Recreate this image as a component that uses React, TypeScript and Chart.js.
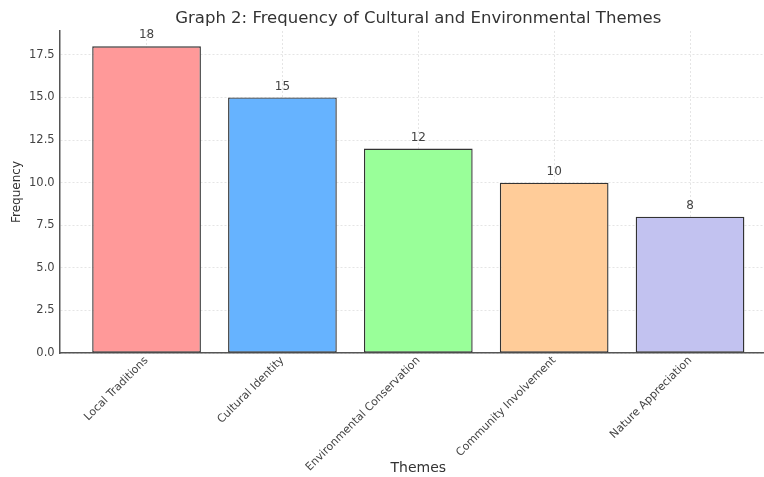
import React, { useEffect, useRef } from "react";
import { Chart, registerables } from "chart.js";

Chart.register(...registerables);

const categories = [
  "Local Traditions",
  "Cultural Identity",
  "Environmental Conservation",
  "Community Involvement",
  "Nature Appreciation",
];
const frequencies = [18, 15, 12, 10, 8];
const barColors = ["#ff9999", "#66b3ff", "#99ff99", "#ffcc99", "#c2c2f0"];
const yTicks = [0, 2.5, 5, 7.5, 10, 12.5, 15, 17.5];
const titleText = "Graph 2: Frequency of Cultural and Environmental Themes";
const xTitle = "Themes";
const yTitle = "Frequency";

const FONT = "'DejaVu Sans', sans-serif";

const valueLabels = {
  id: "valueLabels",
  afterDatasetsDraw(chart: any) {
    const ctx = chart.ctx;
    const meta = chart.getDatasetMeta(0);
    ctx.save();
    ctx.font = `12px ${FONT}`;
    ctx.fillStyle = "#444";
    ctx.textAlign = "center";
    ctx.textBaseline = "bottom";
    meta.data.forEach((el: any, i: number) => {
      ctx.fillText(String(frequencies[i]), el.x, el.y - 5);
    });
    ctx.restore();
  },
};

const plotTitle = {
  id: "plotTitle",
  afterDraw(chart: any) {
    const ctx = chart.ctx;
    const a = chart.chartArea;
    ctx.save();
    ctx.font = `16.5px ${FONT}`;
    ctx.fillStyle = "#333";
    ctx.textAlign = "center";
    ctx.textBaseline = "middle";
    ctx.fillText(titleText, (a.left + a.right) / 2, 19);
    ctx.restore();
  },
};

export default function App() {
  const ref = useRef<HTMLCanvasElement | null>(null);
  useEffect(() => {
    if (!ref.current) return;
    const chart = new Chart(ref.current, {
      type: "bar",
      data: {
        datasets: [
          {
            data: frequencies.map((v, i) => ({ x: i, y: v })),
            backgroundColor: barColors,
            borderColor: "#333",
            borderWidth: 1.4,
            borderSkipped: false,
            barPercentage: 0.8,
            categoryPercentage: 1,
          },
        ],
      },
      options: {
        responsive: false,
        animation: false,
        layout: { padding: { top: 31, left: 0, right: 0, bottom: 0 } },
        plugins: {
          legend: { display: false },
          tooltip: { enabled: false },
          title: { display: false },
        },
        scales: {
          x: {
            type: "linear",
            min: -0.64,
            max: 4.64,
            offset: false,
            z: 1,
            afterFit: (s: any) => {
              s.height = 124;
            },
            ticks: {
              stepSize: 1,
              includeBounds: false,
              autoSkip: false,
              minRotation: 45,
              maxRotation: 45,
              padding: 1,
              color: "#444",
              font: { family: FONT, size: 11 },
              callback: (v: any) => categories[v] ?? "",
            },
            grid: {
              offset: false,
              color: "rgba(0,0,0,0.13)",
              lineWidth: 0.8,
              drawTicks: false,
            },
            border: { display: true, color: "#555", width: 1.5, dash: [2, 2] },
            title: {
              display: true,
              text: xTitle,
              color: "#333",
              font: { family: FONT, size: 14 },
              padding: { top: 4, bottom: 0 },
            },
          },
          y: {
            min: 0,
            max: 18.9,
            z: 1,
            afterFit: (s: any) => {
              s.width = 59.6;
            },
            afterBuildTicks: (s: any) => {
              s.ticks = yTicks.map((v) => ({ value: v }));
            },
            ticks: {
              padding: 5,
              color: "#444",
              font: { family: FONT, size: 11.5 },
              callback: (v: any) => Number(v).toFixed(1),
            },
            grid: {
              color: "rgba(0,0,0,0.13)",
              lineWidth: 0.8,
              drawTicks: false,
            },
            border: { display: true, color: "#555", width: 1.5, dash: [2, 2] },
            title: {
              display: true,
              text: yTitle,
              color: "#333",
              font: { family: FONT, size: 12 },
              padding: { top: 10, bottom: 0 },
            },
          },
        },
      },
      plugins: [valueLabels, plotTitle],
    } as any);
    return () => chart.destroy();
  }, []);
  return (
    <div style={{ position: "fixed", left: 0, top: 0, width: 777, height: 477, background: "#fff" }}>
      <canvas ref={ref} width={777} height={477} />
    </div>
  );
}
